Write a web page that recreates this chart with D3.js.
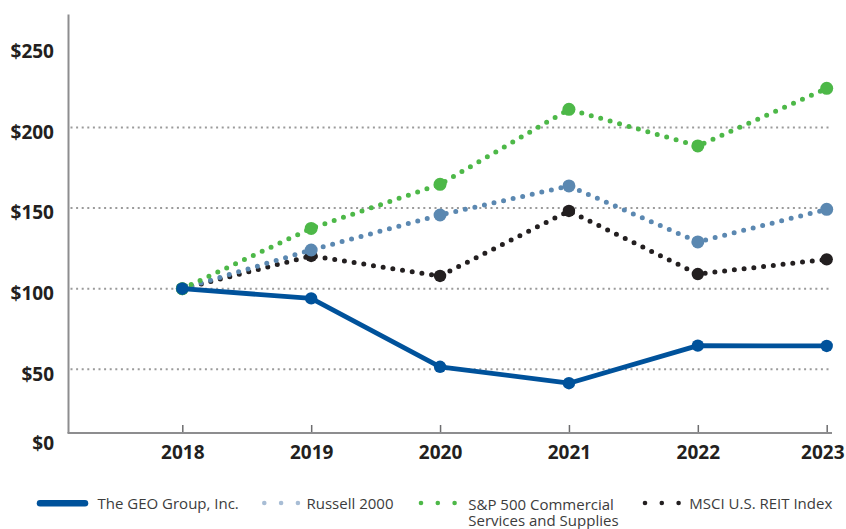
<!DOCTYPE html>
<html>
<head>
<meta charset="utf-8">
<script src="https://cdn.jsdelivr.net/npm/d3@7"></script>
<style>
  body { margin: 0; background: #fff; }
  svg { display: block; }
</style>
</head>
<body>
<script>
// data
var years = [2018, 2019, 2020, 2021, 2022, 2023];
var geoValues = [100, 94, 51.6, 41.4, 64.7, 64.5];
var russellValues = [100, 124, 145.7, 163.7, 129, 149.2];
var spValues = [100, 137.4, 164.7, 211.2, 188.5, 224.2];
var msciValues = [100, 120.3, 107.9, 148.2, 109.1, 118.2];
var yTicks = [50, 100, 150, 200, 250];
var gridTicks = [50, 100, 150, 200];

//positioning/sizing
var svg_dx = 846,
    svg_dy = 529,
    axis_left = 68.5,
    axis_bottom = 433,
    grid_right = 831;

var x = d3.scaleLinear().domain([2018, 2023]).range([182.3, 826.7]),
    y = d3.scaleLinear().domain([0, 270]).range([450, 14.5]);

var svg = d3.select("body").append("svg")
    .attr("width", svg_dx)
    .attr("height", svg_dy);

var labelFont = "'Open Sans', 'Noto Sans', sans-serif";

// gridlines
svg.append("g")
   .selectAll("line")
   .data(gridTicks)
   .enter()
   .append("line")
   .attr("x1", axis_left + 2)
   .attr("x2", grid_right)
   .attr("y1", d => y(d))
   .attr("y2", d => y(d))
   .attr("stroke", "#9b9b9b")
   .attr("stroke-width", 2)
   .attr("stroke-dasharray", "2 3.6");

// y axis line + labels
svg.append("line")
   .attr("x1", axis_left).attr("x2", axis_left)
   .attr("y1", y(270)).attr("y2", axis_bottom)
   .attr("stroke", "#8d8d8f")
   .attr("stroke-width", 2);

svg.append("g")
   .selectAll("text")
   .data(yTicks)
   .enter()
   .append("text")
   .attr("x", 54)
   .attr("y", d => y(d))
   .attr("dy", "0.6em")
   .attr("text-anchor", "end")
   .attr("font-family", labelFont)
   .attr("font-weight", 700)
   .attr("font-size", 19)
   .attr("fill", "#231f20")
   .text(d => "$" + d);

svg.append("text")
   .attr("x", 54)
   .attr("y", axis_bottom + 16.5)
   .attr("text-anchor", "end")
   .attr("font-family", labelFont)
   .attr("font-weight", 700)
   .attr("font-size", 19)
   .attr("fill", "#231f20")
   .text("$0");

// x axis
var axis_x = d3.axisBottom(x)
    .tickValues(years)
    .tickFormat(d3.format("d"))
    .tickSize(-8)
    .tickPadding(12);

var gx = svg.append("g")
   .attr("transform", "translate(0," + axis_bottom + ")")
   .call(axis_x);

gx.select(".domain").remove();
gx.append("line")
  .attr("x1", axis_left - 1)
  .attr("x2", grid_right + 1)
  .attr("stroke", "#8d8d8f")
  .attr("stroke-width", 2);
gx.selectAll(".tick line")
  .attr("stroke", "#6d6d6f")
  .attr("stroke-width", 1.5)
  .attr("y1", -1);
gx.selectAll(".tick text")
  .attr("font-family", labelFont)
  .attr("font-weight", 700)
  .attr("font-size", 19)
  .attr("fill", "#231f20")
  .attr("dy", "0.72em");
// last label sits flush against the right edge
gx.selectAll(".tick text")
  .filter(d => d == years[years.length - 1])
  .attr("text-anchor", "end")
  .attr("x", svg_dx - 2 - x(years[years.length - 1]));

// series lines + markers
var series = [
    {name: "msci", values: msciValues, color: "#231f20", dotted: true, r: 6.2},
    {name: "russell", values: russellValues, color: "#5b88b1", dotted: true, r: 6.5},
    {name: "sp", values: spValues, color: "#4db848", dotted: true, r: 6.5},
    {name: "geo", values: geoValues, color: "#00529b", dotted: false, r: 6.2}
];

var line = d3.line()
    .x((d, i) => x(years[i]))
    .y(d => y(d));

series.forEach(function(s) {
    var g = svg.append("g").attr("class", s.name);
    var path = g.append("path")
        .attr("d", line(s.values))
        .attr("fill", "none")
        .attr("stroke", s.color)
        .attr("stroke-linejoin", "round");
    if (s.dotted) {
        path.attr("stroke-width", 5)
            .attr("stroke-linecap", "round")
            .attr("stroke-dasharray", "0 9.8");
    } else {
        path.attr("stroke-width", 4.8);
    }
    g.selectAll("circle")
     .data(s.values)
     .enter()
     .append("circle")
     .attr("cx", (d, i) => x(years[i]))
     .attr("cy", d => y(d))
     .attr("r", s.r)
     .attr("fill", s.color);
});

// legend
var legend = svg.append("g")
    .attr("font-family", labelFont)
    .attr("font-size", 15)
    .attr("fill", "#3c3c3c");

legend.append("line")
   .attr("x1", 40).attr("x2", 85)
   .attr("y1", 503.3).attr("y2", 503.3)
   .attr("stroke", "#00529b")
   .attr("stroke-width", 6.5)
   .attr("stroke-linecap", "round");
legend.append("text").attr("x", 97.5).attr("y", 508.5).text("The GEO Group, Inc.");

var legendDots = [
    {start: 264.3, color: "#a8bdd5", y: 503},
    {start: 421, color: "#4db848", y: 503},
    {start: 645, color: "#231f20", y: 503}
];
legendDots.forEach(function(ld) {
    legend.append("g")
      .selectAll("circle")
      .data([0, 1, 2])
      .enter()
      .append("circle")
      .attr("cx", d => ld.start + d * 16.8)
      .attr("cy", ld.y)
      .attr("r", 2.3)
      .attr("fill", ld.color);
});

legend.append("text").attr("x", 306.5).attr("y", 508.5).text("Russell 2000");

// two-line label kept as one text element
var spLabel = legend.append("text").attr("x", 468.3).attr("y", 509.5);
spLabel.append("tspan").attr("x", 468.3).text("S&P 500 Commercial");
spLabel.append("tspan").attr("x", 468.3).attr("dy", 16.5).text("Services and Supplies");

legend.append("text").attr("x", 689.3).attr("y", 509).text("MSCI U.S. REIT Index");
</script>
</body>
</html>
